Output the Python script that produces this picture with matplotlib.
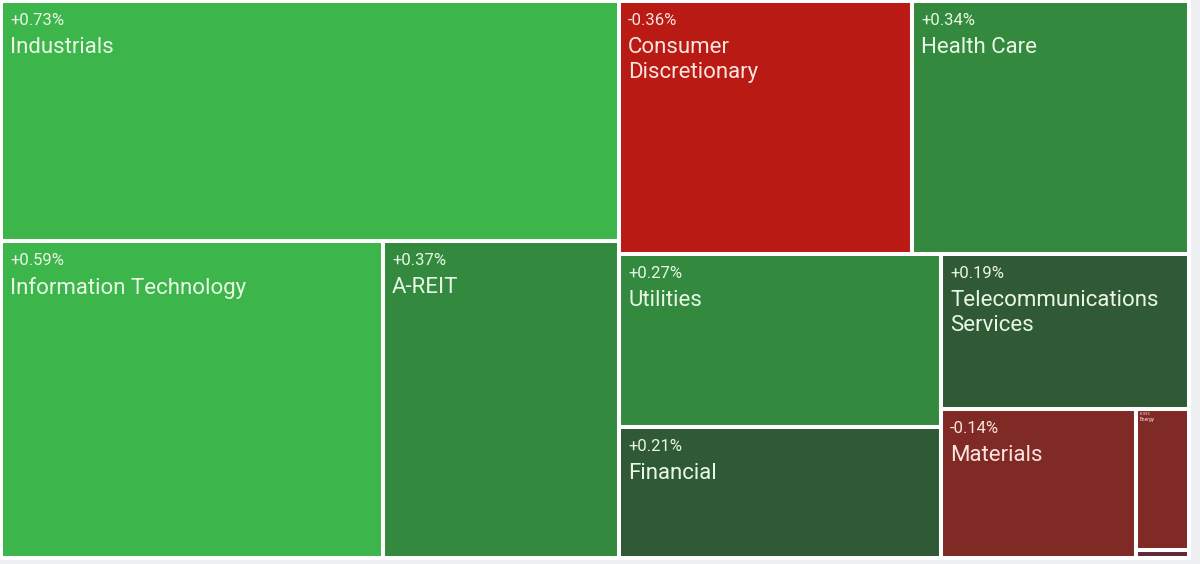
import matplotlib.pyplot as plt
from matplotlib.patches import Rectangle

# Sector data (tile weight ~ market cap, daily change in %)
sectors = ["Industrials", "Information Technology", "A-REIT", "Consumer\nDiscretionary",
           "Health Care", "Utilities", "Financial", "Telecommunications\nServices",
           "Materials", "Energy", "Consumer Staples"]
weights = [148320, 121094, 74812, 74129, 70081, 55706, 42182, 38440, 29055, 7473, 424]
changes = [0.73, 0.59, 0.37, -0.36, 0.34, 0.27, 0.21, 0.19, -0.14, -0.05, 0.0]


def tile_color(c):
    if c >= 0.5:
        return '#3cb54a'
    if c >= 0.25:
        return '#338a3e'
    if c > 0:
        return '#2f5a35'
    if c == 0:
        return '#5e2a3a'
    if c > -0.25:
        return '#7f2a25'
    return '#b91a14'


def split(items, x, y, w, h, vertical, out):
    # balanced binary split, alternating cut direction
    if len(items) == 1:
        out.append((items[0], x, y, w, h))
        return
    tot = sum(weights[i] for i in items)
    best, acc, k = None, 0, 1
    for j in range(len(items) - 1):
        acc += weights[items[j]]
        d = abs(acc - tot / 2)
        if best is None or d < best:
            best, k = d, j + 1
    a, b = items[:k], items[k:]
    f = sum(weights[i] for i in a) / tot
    if vertical:
        split(a, x, y, w * f, h, False, out)
        split(b, x + w * f, y, w * (1 - f), h, False, out)
    else:
        split(a, x, y, w, h * f, True, out)
        split(b, x, y + h * f, w, h * (1 - f), True, out)


W, H = 1200, 564
fig = plt.figure(figsize=(12, 5.64), dpi=100, facecolor='#eef0f4')
ax = fig.add_axes([1 / W, 6 / H, 1188 / W, 557 / H])
ax.set_xlim(0, 1)
ax.set_ylim(1, 0)
ax.axis('off')

tiles = []
split(list(range(len(sectors))), 0, 0, 1, 1, True, tiles)

for i, x, y, w, h in tiles:
    c = changes[i]
    ax.add_patch(Rectangle((x, y), w, h, facecolor=tile_color(c), edgecolor='white',
                           linewidth=2.9, clip_on=False))
    wpx, hpx = w * 1188, h * 557
    if hpx < 20:
        continue
    txt = '#fbe4df' if c < 0 else '#e9f7e6'
    s = 1.0 if wpx > 100 else 0.22
    ax.annotate(f"{c:+.2f}%", xy=(x, y), xytext=(7 * s + 2, -12 * s), textcoords='offset pixels',
                ha='left', va='top', fontsize=12 * s, color=txt, family='Roboto')
    ax.annotate(sectors[i], xy=(x, y), xytext=(7 * s + 2, -36 * s), textcoords='offset pixels',
                ha='left', va='top', fontsize=16 * s, color=txt, family='Roboto',
                linespacing=1.25)

fig.savefig('out.png', dpi=100, facecolor=fig.get_facecolor())
